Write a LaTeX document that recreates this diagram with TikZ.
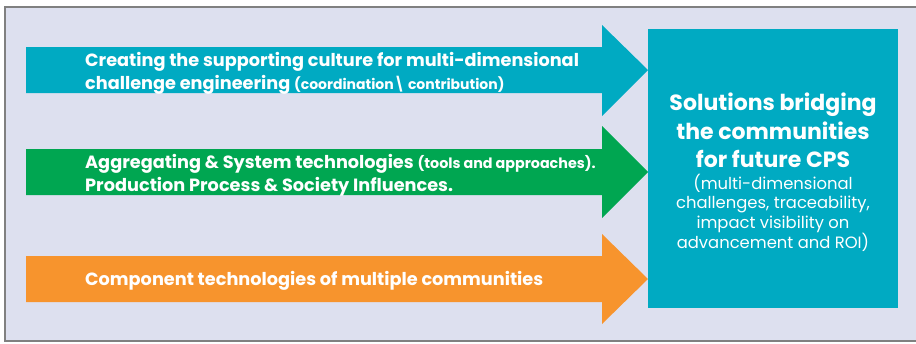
\documentclass[tikz,border=0pt]{standalone}
\usepackage{fontspec}
\setmainfont{Poppins}
\usepackage{tikz}
\usetikzlibrary{positioning}

\definecolor{hintergrund}{HTML}{DDE0EF}
\definecolor{rahmengrau}{HTML}{808080}
\definecolor{tuerkis}{HTML}{00AAC2}
\definecolor{gruen}{HTML}{00A651}
\definecolor{orange}{HTML}{F7942D}

\begin{document}
\begin{tikzpicture}[x=1pt,y=-1pt,
    pfeiltext/.style={anchor=west,align=left,inner sep=0pt,text=white,font=\bfseries\fontsize{17.7}{23}\selectfont},
    loesung/.style={fill=tuerkis,minimum width=250pt,minimum height=279pt,inner sep=0pt},
    titel/.style={align=center,text=white,font=\bfseries\fontsize{22}{28.5}\selectfont},
    untertitel/.style={align=center,text=white,font=\fontsize{16.4}{19.5}\selectfont}]
            \useasboundingbox (0,0) rectangle (916,343);
            \clip (0,0) rectangle (916,343);
            % Rahmen zeichnen
            \filldraw[fill=hintergrund,draw=rahmengrau,line width=1.5pt] (5,7) rectangle (930,341);

            % Pfeile einzeichnen:
            \fill[tuerkis] (26,47) -- (602,47) -- (602,25) -- (648,70) -- (602,116) -- (602,93) -- (26,93) -- cycle;
            \fill[gruen] (26,149) -- (602,149) -- (602,126) -- (648,172) -- (602,218) -- (602,195) -- (26,195) -- cycle;
            \fill[orange] (26,256) -- (602,256) -- (602,234) -- (648,279) -- (602,324) -- (602,302) -- (26,302) -- cycle;

            % Beschriftungen
            \node[pfeiltext] (kultur) at (85,73) {Creating the supporting culture for multi-dimensional\\
                challenge engineering {\fontsize{14}{23}\selectfont(coordination\textbackslash\ contribution)}};
            \node[pfeiltext] (system) at (85,175) {Aggregating \& System technologies {\fontsize{14.3}{23}\selectfont(tools and approaches).}\\
                Production Process \& Society Influences.};
            \node[pfeiltext] (komponente) at (85,281) {Component technologies of multiple communities};

            % Loesungsbox
            \node[loesung] (box) at (773,168.5) {};
            \node[titel] (ueberschrift) at (773,130.5) {Solutions bridging\\ the communities\\ for future CPS};
            \node[untertitel] (erklaerung) at (773,213) {(multi-dimensional\\ challenges, traceability,\\ impact visibility on\\ advancement and ROI)};

\end{tikzpicture}
\end{document}
